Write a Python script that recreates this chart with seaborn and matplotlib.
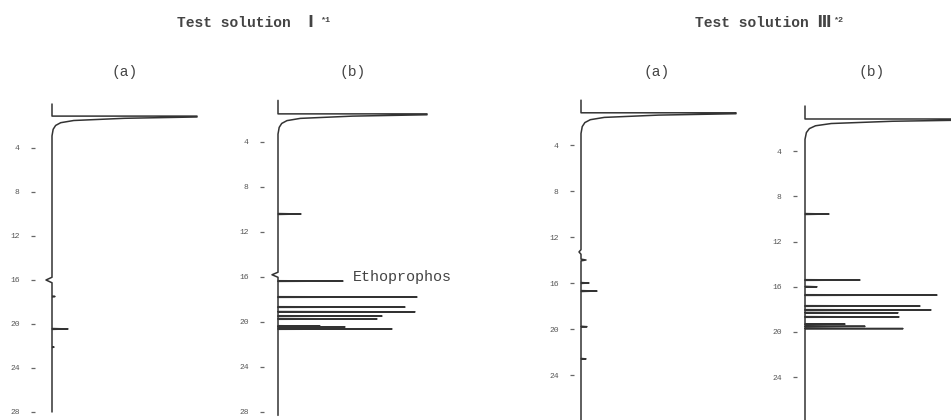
import numpy as np
import pandas as pd
import matplotlib
matplotlib.use("Agg")
import matplotlib.pyplot as plt
import seaborn as sns

# ---------------- data ----------------
titles = ["Test solution  Ⅰ", "Test solution Ⅲ"]
title_notes = ["*1", "*2"]
sub_labels = ["(a)", "(b)", "(a)", "(b)"]
ticks_I = [4, 8, 12, 16, 20, 24, 28]
ticks_III = [4, 8, 12, 16, 20, 24]
panel_ticks = [ticks_I, ticks_I, ticks_III, ticks_III]

# solvent front: time (min) and height (response units)
solvent_time = [1.1, 1.5, 1.2, 1.15]
solvent_height = [145, 149, 155, 175]
start_time = [0.0, 0.3, 0.1, 0.0]
end_time = [28.0, 28.3, 30.0, 30.0]
# tail of solvent peak: time offset and fraction of height
tail_dt = [0.0, 0.08, 0.2, 0.4, 0.6, 0.85, 1.2, 1.8]
tail_frac = [1.0, 1.0, 0.5, 0.15, 0.06, 0.025, 0.008, 0.0]

# peaks: retention time (min), height (response), width (min)
Ia_t = [16.0, 17.5, 20.45, 22.1]
Ia_h = [-6, 3, 16, 2]
Ia_w = [0.5, 0.1, 0.08, 0.1]

Ib_t = [10.4, 15.8, 16.36, 17.78, 18.67, 19.1, 19.47, 19.73, 20.36, 20.44, 20.62]
Ib_h = [23, -6, 65, 139, 127, 137, 104, 99, 42, 67, 114]
Ib_w = [0.08, 0.45, 0.06, 0.06, 0.06, 0.06, 0.06, 0.06, 0.06, 0.06, 0.06]

IIIa_t = [13.3, 14.0, 16.0, 16.7, 19.8, 22.6]
IIIa_h = [-2, 5, 8, 16, 6, 5]
IIIa_w = [0.4, 0.15, 0.08, 0.08, 0.08, 0.08]

IIIb_t = [9.56, 15.4, 16.0, 16.73, 17.7, 18.05, 18.3, 18.67, 19.3, 19.5, 19.7]
IIIb_h = [24, 55, 12, 132, 115, 126, 93, 94, 40, 60, 98]
IIIb_w = [0.08, 0.06, 0.08, 0.06, 0.06, 0.06, 0.06, 0.06, 0.06, 0.06, 0.06]

peaks_t = [Ia_t, Ib_t, IIIa_t, IIIb_t]
peaks_h = [Ia_h, Ib_h, IIIa_h, IIIb_h]
peaks_w = [Ia_w, Ib_w, IIIa_w, IIIb_w]

annot_text = "Ethoprophos"

# ---------------- layout (pixels) ----------------
W, H = 951, 420
base_x = [52, 278, 581, 805]      # baseline pixel x
t0_y = [104, 97, 99, 106]         # pixel y of t = 0
px_per_min = [11.0, 11.25, 11.5, 11.3]
tick_x = [33, 262, 572, 795]
right_x = [240, 470, 760, 951]
top_y, bot_y = 95, 420

sns.set_theme(style="white")
mono = ["Liberation Mono", "DejaVu Sans Mono", "DejaVu Sans", "Noto Sans CJK SC"]
plt.rcParams["font.family"] = mono
line_col = "#333333"
text_col = "#444444"

fig = plt.figure(figsize=(W / 100, H / 100), dpi=100)
fig.patch.set_facecolor("white")


def build_trace(i):
    ts, hs = solvent_time[i], solvent_height[i]
    t = [start_time[i], ts, ts]
    y = [0, 0, hs]
    for dt, f in zip(tail_dt, tail_frac):
        t.append(ts + dt)
        y.append(f * hs)
    order = np.argsort(peaks_t[i])
    for k in order:
        pt, ph, pw = peaks_t[i][k], peaks_h[i][k], peaks_w[i][k]
        t += [pt - pw / 2, pt, pt + pw / 2]
        y += [0, ph, 0]
    t.append(end_time[i])
    y.append(0)
    return pd.DataFrame({"time": t, "signal": y})


for i in range(4):
    L = tick_x[i] + 2
    R = right_x[i]
    ax = fig.add_axes([L / W, 1 - bot_y / H, (R - L) / W, (bot_y - top_y) / H])
    df = build_trace(i)
    sns.lineplot(data=df, x="signal", y="time", sort=False, estimator=None,
                 ax=ax, color=line_col, linewidth=1.1)
    ax.set_xlim(L - base_x[i], R - base_x[i])
    ax.set_ylim((bot_y - t0_y[i]) / px_per_min[i], (top_y - t0_y[i]) / px_per_min[i])
    for s in ax.spines.values():
        s.set_visible(False)
    ax.set_xticks([])
    ax.set_yticks(panel_ticks[i])
    ax.set_yticklabels([str(v) for v in panel_ticks[i]])
    ax.tick_params(axis="y", left=True, direction="out", length=3, width=0.9,
                   color="#666666", labelsize=5.8, labelcolor="#555555", pad=8)
    ax.set_xlabel("")
    ax.set_ylabel("")
    ax.patch.set_alpha(0)
    if i == 1:
        k = peaks_t[1].index(16.36)
        ax.text(353 - base_x[1], peaks_t[1][k] - 0.35, annot_text, fontsize=10.8,
                color=text_col, ha="left", va="center",
                family=["Liberation Mono", "DejaVu Sans Mono"])

# titles
title_x = [177, 695]
note_x = [320, 833]
for j in range(2):
    fig.text(title_x[j] / W, 1 - 23 / H, titles[j], fontsize=10.5, color=text_col,
             ha="left", va="center", family=mono, weight="bold")
    fig.text(note_x[j] / W, 1 - 20 / H, title_notes[j], fontsize=6, color=text_col,
             ha="left", va="center", family=mono, weight="bold")

sub_x = [125, 353, 657, 872]
for i in range(4):
    fig.text(sub_x[i] / W, 1 - 72 / H, sub_labels[i], fontsize=10.5, color=text_col,
             ha="center", va="center", family=mono)

fig.savefig("out.png", dpi=100, facecolor="white")
